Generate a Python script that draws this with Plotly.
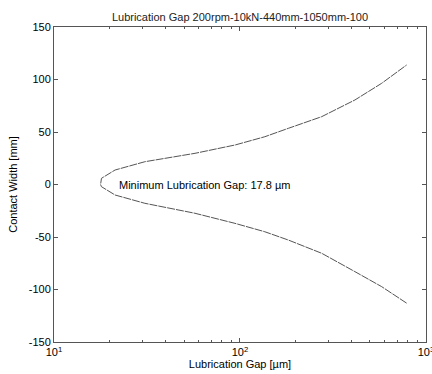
import plotly.graph_objects as go

# Upper branch (gap in µm, contact width in mm)
gap_upper = [17.8, 18.0, 21.3, 30.8, 57.3, 94, 136, 182, 275, 415, 578, 787]
width_upper = [0, 5.9, 13.8, 21.7, 29.7, 37.6, 45.5, 53.5, 64.6, 80.5, 96.4, 113.8]
# Lower branch
gap_lower = [17.8, 18.0, 21.3, 30.8, 57.3, 94, 136, 182, 275, 415, 578, 787]
width_lower = [0, -2.1, -10.0, -17.9, -27.4, -37.0, -45.0, -52.9, -65.5, -83.0, -97.3, -113.0]

min_gap = 17.8
title = "Lubrication Gap 200rpm-10kN-440mm-1050mm-100"
x_title = "Lubrication Gap [µm]"
y_title = "Contact Width [mm]"
y_ticks = [-150, -100, -50, 0, 50, 100, 150]
y_ticktext = ["-150", "-100", "-50", "0", "50", "100", "150"]
x_ticks = [10, 100, 1000]
x_ticktext = ["10<sup>1</sup>", "10<sup>2</sup>", "10<sup>3</sup>"]

x_all = list(reversed(gap_lower)) + gap_upper[1:]
y_all = list(reversed(width_lower)) + width_upper[1:]

fig = go.Figure()
fig.add_trace(go.Scatter(
    x=x_all, y=y_all, mode="lines",
    line=dict(color="#555555", width=1, dash="8px,1px"),
    showlegend=False, hoverinfo="skip", cliponaxis=False))

font = dict(family="Liberation Sans, Arial, sans-serif", size=11, color="black")

fig.update_layout(
    width=432, height=374,
    margin=dict(l=54, r=6, t=27, b=32, autoexpand=False),
    paper_bgcolor="white", plot_bgcolor="white",
    font=font,
    title=dict(text=title, x=0.5, xanchor="center", y=1 - 17 / 374, yanchor="middle",
               xref="paper", automargin=False, font=dict(size=11, color="#222222")),
    xaxis=dict(type="log", range=[1, 3.0002], showgrid=False, zeroline=False, automargin=False,
               showline=True, linecolor="#555555", linewidth=1, mirror="ticks",
               ticks="inside", ticklen=4, tickcolor="#555555",
               tickvals=x_ticks, ticktext=x_ticktext, ticklabeloverflow="allow",
               minor=dict(ticks="inside", ticklen=2, tickcolor="#555555",
                          tickvals=[20, 30, 40, 50, 60, 70, 80, 90, 200, 300, 400, 500, 600, 700, 800, 900]),
               title=dict(text=x_title, standoff=2, font=dict(size=11)),
               tickfont=dict(size=11)),
    yaxis=dict(range=[-150, 150], showgrid=False, zeroline=False, automargin=False,
               showline=True, linecolor="#555555", linewidth=1, mirror="ticks",
               ticks="inside", ticklen=4, tickcolor="#555555",
               tickvals=y_ticks, ticktext=y_ticktext,
               title=dict(text=y_title, standoff=8, font=dict(size=11)),
               tickfont=dict(size=11)),
)

fig.add_annotation(x=1.339, y=0, xref="x", yref="y", text="Minimum Lubrication Gap: %.1f µm" % min_gap,
                   showarrow=False, xanchor="left", yanchor="middle", font=dict(size=11, color="black"))

fig.write_html("out.html", config={"displayModeBar": False},
               post_script="document.body.style.margin='0';document.body.style.overflow='hidden';")
